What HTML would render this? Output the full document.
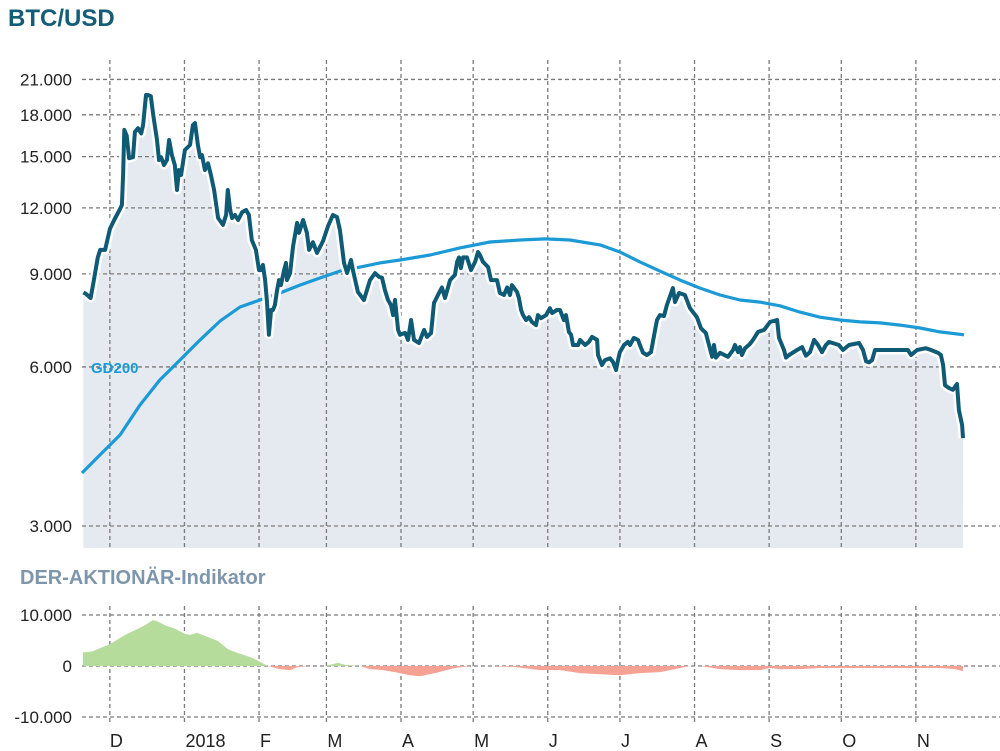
<!DOCTYPE html>
<html><head><meta charset="utf-8">
<style>
html,body{margin:0;padding:0;background:#fff;}
svg{display:block;font-family:"Liberation Sans",sans-serif;}
</style></head>
<body>
<svg id="c" width="1000" height="751" viewBox="0 0 1000 751">
<text x="8" y="26" font-size="24" font-weight="bold" fill="#145d78">BTC/USD</text>
<text x="20" y="584" font-size="20" font-weight="bold" fill="#7e96ac">DER-AKTIONÄR-Indikator</text>
<g id="grid"></g>
<g id="marks"></g>
<g id="labels"></g>
</svg>
<script>
// ---- data ----
const priceDays=[1,2,4,5,7,8,10,12,14,16,17,17.5,18,19,20,21.6,22.4,23.7,25,25.8,27,27.8,29,30,31.6,32.4,33.3,34.5,35.7,36.6,37.8,39,39.9,40.7,41.6,43.2,45.3,46.5,47.4,48.6,49.5,50.3,51.5,52.8,54,55.3,57,59,60.3,61,62,62.8,64,65.3,67,68.6,69.8,71,72.7,74,74.8,75.6,76.5,77.3,78.1,79,79.8,80.6,81.5,82.3,83.1,84.4,85.2,85.6,86.9,88.1,89.8,90.6,92.3,93.9,94.8,96.4,98.1,100.6,102.7,104.7,106.4,107.6,109.3,110.6,112.2,113,115.1,117.6,120.1,122.2,123.9,125.1,126.3,127.6,128.8,129.7,130.5,131.8,132.6,134.7,135.9,137.2,138.4,140.5,142.6,143.8,145.5,146.7,148.8,150,151.3,153.4,155.4,156.3,157.1,157.9,158.8,160.4,162.1,163.8,165,165.8,167.1,169.2,170.4,172.9,174.1,175.8,177.1,178.3,179.1,181.2,182,182.9,183.7,185,186.2,187.4,189.1,189.9,191.2,193.3,194.9,195.8,197.8,199.1,199.9,200.7,201.6,202.8,203.7,204.5,206.6,207.4,209.5,211.1,212.4,214.5,214.9,215.7,216.5,217.8,219.9,221.1,222.4,223.2,224,225.7,227.3,228.2,229.8,231.5,232.3,233.6,235.2,236.9,238.6,239.4,240.6,242.3,243.5,246,246.9,248.6,251,253.1,256,257.7,259.7,261,262.3,263.1,263.9,265.6,268.9,271,271.8,273.1,273.9,274.7,276,278,279.3,281.4,283.9,286.4,289.3,290.1,292.2,293,294.3,297.6,299.7,301.3,303,304.7,306.3,308,309.6,310.9,315,316.7,319.2,323.4,325,326.3,327.5,328.8,330,333.7,340,343.7,345,347.5,351.2,353.3,356.2,357.4,358.3,359.1,360.8,362.4,364.1,364.9,366.2,366.6];
const priceValues=[8300,8250,8100,8570,9670,9990,9990,10950,11430,11890,12150,13850,16850,16440,14900,14960,16700,16980,16600,17210,19620,19620,19530,18000,16130,14780,14960,14460,14780,16130,15100,14460,12970,14150,13850,15440,15780,17210,17360,15780,14960,15100,14150,14570,13850,12970,11480,11140,11630,12970,11890,11480,11630,11380,11780,11890,11630,10430,9990,9150,9150,9360,8760,7960,6900,7690,7690,7860,8390,8760,8570,9150,9440,8760,9030,10130,11240,10760,11380,10760,9990,10330,9860,10380,11090,11630,11530,10900,9440,9030,9560,9150,8320,8030,8760,9030,8880,8850,8390,8030,7860,7520,8030,7050,6900,6960,6750,7360,6750,6660,7050,6840,6960,7930,8280,8480,8100,8760,8960,9480,9670,9230,9670,9670,9150,9480,9900,9770,9480,9270,8760,8760,8280,8210,8480,8210,8570,8320,8100,7690,7520,7360,7450,7300,7200,7520,7420,7520,7750,7590,7690,7690,7520,7360,7520,6990,6900,6600,6600,6750,6600,6690,6840,6750,6320,6180,6050,6180,6230,6130,5920,6180,6400,6600,6690,6600,6810,6750,6600,6380,6320,6400,7050,7360,7520,7490,7860,8460,7960,8280,8210,7750,7450,7100,6960,6600,6270,6600,6250,6380,6270,6460,6600,6400,6540,6320,6510,6630,6750,6990,7050,7300,7360,6810,6460,6250,6320,6460,6540,6300,6400,6750,6600,6400,6600,6690,6600,6460,6600,6660,6460,6150,6120,6180,6460,6460,6460,6460,6320,6460,6510,6460,6380,6320,6050,5540,5470,5430,5570,4970,4660,4400];
const gdDays=[0.4,7.9,16.2,24.5,32.8,41.1,49.5,57.8,66.1,74.4,82.7,91,99.3,107.6,116,124.3,132.6,145.1,157.5,170,182.5,192.9,203.2,215.7,224,232.3,240.6,249,257.3,265.6,273.9,282.2,290.5,298.8,307.1,315.5,323.8,332.1,340.4,348.7,357,367];
const gdValues=[3780,4090,4460,5080,5670,6180,6750,7330,7790,8030,8280,8570,8840,9110,9270,9440,9560,9770,10080,10340,10430,10480,10430,10210,9900,9480,9110,8760,8460,8210,8030,7960,7830,7620,7450,7360,7300,7270,7200,7110,6990,6900];
const indDays=[0.8,1.7,5,7.9,12,16.2,19.1,22.4,26.6,29.9,31.6,34.9,39.1,43.2,45.3,48.2,51.5,56.9,61.1,66.1,71.1,77.7,82.7,86.9,90.2,95.2,101.4,106.8,110.1,116,120.1,125.5,130.5,136.7,140.9,147.1,155.4,161.7,170,180.4,190.8,199.1,207.4,215.7,224,232.3,240.6,246.9,253.1,257.3,265.6,273.9,282.2,286.4,290.5,298.8,307.1,319.6,340.4,357,363.3,366.6];
const indValues=[2700,2700,2900,3500,4300,5500,6300,7000,8000,9000,8800,8000,7300,6300,6100,6500,5900,4900,3300,2400,1600,0,-600,-800,-200,0,0,600,200,0,-600,-800,-1200,-1800,-2000,-1400,-400,0,0,-200,-800,-800,-1400,-1600,-1800,-1400,-1200,-600,0,0,-600,-800,-800,-400,-600,-600,-400,-400,-400,-400,-600,-1000];
const priceTicks=[3000,6000,9000,12000,15000,18000,21000];
const priceTickLabels=["3.000","6.000","9.000","12.000","15.000","18.000","21.000"];
const indTicks=[10000,0,-10000];
const indTickLabels=["10.000","0","-10.000"];
const monthDays=[12,43,74,102,133,163,194,224,255,286,316,347];
const monthLabels=["D","2018","F","M","A","M","J","J","A","S","O","N"];

// ---- axes ----
const NS="http://www.w3.org/2000/svg";
const x=d=>81+d*2.406;
const yP=v=>526-229.5*Math.log(v/3000);
const yI=v=>666-v*0.0051;
const P_TOP=60,P_BOT=548,I_TOP=606,I_BOT=722;
function mk(tag,attrs,parent){const e=document.createElementNS(NS,tag);for(const k in attrs)e.setAttribute(k,attrs[k]);parent.appendChild(e);return e;}
const grid=document.getElementById('grid'),marks=document.getElementById('marks'),labels=document.getElementById('labels');
const dash={stroke:"#7a7a7a","stroke-width":1.3,"stroke-dasharray":"4,3",fill:"none"};

let area=`M${x(priceDays[0])},${P_BOT}`;
priceDays.forEach((d,i)=>area+=`L${x(d).toFixed(1)},${yP(priceValues[i]).toFixed(1)}`);
area+=`L${x(priceDays[priceDays.length-1])},${P_BOT}Z`;
const ar=mk('path',{d:area,fill:"#e5eaf1"},grid);



priceTicks.forEach((t,i)=>{
  const l=mk('line',Object.assign({x1:82,x2:1000,y1:yP(t),y2:yP(t)},dash),grid);
  
  
  const tx=mk('text',{x:72,y:yP(t)+6,"text-anchor":"end","font-size":17,fill:"#222"},labels);
  tx.textContent=priceTickLabels[i];
  
  
});
indTicks.forEach((t,i)=>{
  const l=mk('line',Object.assign({x1:82,x2:1000,y1:yI(t),y2:yI(t)},dash),grid);
  
  
  const tx=mk('text',{x:72,y:yI(t)+6,"text-anchor":"end","font-size":17,fill:"#222"},labels);
  tx.textContent=indTickLabels[i];
  
  
});
monthDays.forEach((d,i)=>{
  const l=mk('line',Object.assign({x1:x(d),x2:x(d),y1:P_TOP,y2:P_BOT},dash),grid);
  
  
  const l2=mk('line',Object.assign({x1:x(d),x2:x(d),y1:I_TOP,y2:I_BOT},dash),grid);
  
  
  const tx=mk('text',{x:x(d)+(i==0?0:1),y:747,"font-size":18,fill:"#222"},labels);
  tx.textContent=monthLabels[i];
  
  
});

let gd="";gdDays.forEach((d,i)=>gd+=(i?"L":"M")+x(d).toFixed(1)+","+yP(gdValues[i]).toFixed(1));
const gl=mk('path',{d:gd,fill:"none",stroke:"#1b9ad6","stroke-width":3.2,"stroke-linejoin":"round"},marks);



let pl="";priceDays.forEach((d,i)=>pl+=(i?"L":"M")+x(d).toFixed(1)+","+yP(priceValues[i]).toFixed(1));
const halo=mk('path',{d:pl,fill:"none",stroke:"#fff","stroke-width":9,"stroke-linejoin":"round"},marks);


const pline=mk('path',{d:pl,fill:"none",stroke:"#0f5a75","stroke-width":4,"stroke-linejoin":"round"},marks);



const gt=mk('text',{x:91,y:373,"font-size":15,"font-weight":"bold",fill:"#1b9ad6"},marks);
gt.textContent="GD200";



const defs=mk('defs',{},marks);
const cpT=mk('clipPath',{id:"pos"},defs);mk('rect',{x:0,y:0,width:1000,height:yI(0)},cpT);
const cpB=mk('clipPath',{id:"neg"},defs);mk('rect',{x:0,y:yI(0),width:1000,height:100},cpB);
let ia=`M${x(indDays[0])},${yI(0)}`;
indDays.forEach((d,i)=>ia+=`L${x(d).toFixed(1)},${yI(indValues[i]).toFixed(1)}`);
ia+=`L${x(indDays[indDays.length-1])},${yI(0)}Z`;
const pos=mk('path',{d:ia,fill:"#b6dc9b","clip-path":"url(#pos)"},marks);


const neg=mk('path',{d:ia,fill:"#f5a193","clip-path":"url(#neg)"},marks);


</script>
</body></html>
